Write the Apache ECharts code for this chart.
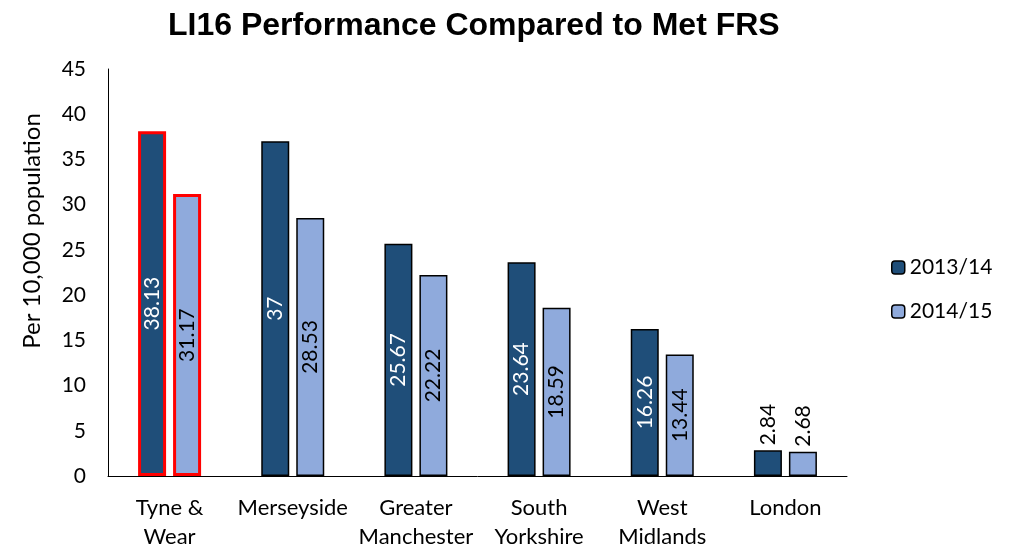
<!DOCTYPE html>
<html><head><meta charset="utf-8">
<script src="https://cdn.jsdelivr.net/npm/echarts@6/dist/echarts.min.js"></script>
<style>html,body{margin:0;padding:0;background:#fff}#c{width:1009px;height:547px}</style>
</head><body><div id="c"></div>
<script>
const categories = ['Tyne &\nWear','Merseyside','Greater\nManchester','South\nYorkshire','West\nMidlands','London'];
const values1314 = [38.13, 37, 25.67, 23.64, 16.26, 2.84];
const values1415 = [31.17, 28.53, 22.22, 18.59, 13.44, 2.68];
const yTicks = [0,5,10,15,20,25,30,35,40,45];
const FONT = 'Lato, "Open Sans", sans-serif';

function mk(vals, highlightIdx, outsideIdx) {
  return vals.map((v, i) => {
    const d = { value: v };
    if (i === highlightIdx) d.itemStyle = { borderColor: '#FF0000', borderWidth: 3 };
    if (i === outsideIdx) d.label = { position: 'top', align: 'left', verticalAlign: 'middle', color: '#000', distance: 5 };
    return d;
  });
}
const lab = (color) => ({
  show: true, position: 'inside', rotate: 90, color: color,
  fontFamily: FONT, fontSize: 21
});

const chart = echarts.init(document.getElementById('c'));
chart.setOption({
  animation: false,
  title: { text: 'LI16 Performance Compared to Met FRS', left: 163, top: 5,
    textStyle: { fontFamily: 'Liberation Sans, Arial', fontWeight: 'bold', fontSize: 32, color: '#000' } },
  legend: { orient: 'vertical', left: 886, top: 252, itemWidth: 13, itemHeight: 13, itemGap: 23,
    textStyle: { fontFamily: FONT, fontSize: 21, color: '#000' },
    itemStyle: { borderColor: '#000', borderWidth: 1.5 },
    data: ['2013/14','2014/15'] },
  graphic: [{ type: 'text', x: 32, y: 231, rotation: Math.PI / 2,
    style: { text: 'Per 10,000 population', fontFamily: FONT, fontSize: 24, fill: '#000',
      align: 'center', verticalAlign: 'middle' } }],
  grid: { left: 108, right: 162, top: 69, bottom: 71, outerBoundsMode: 'none', containLabel: false },
  xAxis: { type: 'category', data: categories,
    axisLine: { lineStyle: { color: '#000', width: 1 } }, axisTick: { show: false },
    axisLabel: { color: '#000', fontFamily: FONT, fontSize: 22, margin: 17, lineHeight: 29, interval: 0 } },
  yAxis: { type: 'value', min: 0, max: 45, interval: 5,
    axisLine: { show: true, lineStyle: { color: '#000', width: 1 } },
    axisTick: { show: false },
    splitLine: { show: false },
    axisLabel: { color: '#000', fontFamily: FONT, fontSize: 21, margin: 22,
      formatter: v => yTicks.includes(v) ? String(v) : '' } },
  series: [
    { name: '2013/14', type: 'bar', barWidth: 28, barGap: '25%',
      itemStyle: { color: '#1F4E79', borderColor: '#000', borderWidth: 1.5 },
      label: lab('#fff'), data: mk(values1314, 0, 5) },
    { name: '2014/15', type: 'bar', barWidth: 28,
      itemStyle: { color: '#8FAADC', borderColor: '#000', borderWidth: 1.5 },
      label: lab('#000'), data: mk(values1415, 0, 5) }
  ]
});
</script></body></html>
